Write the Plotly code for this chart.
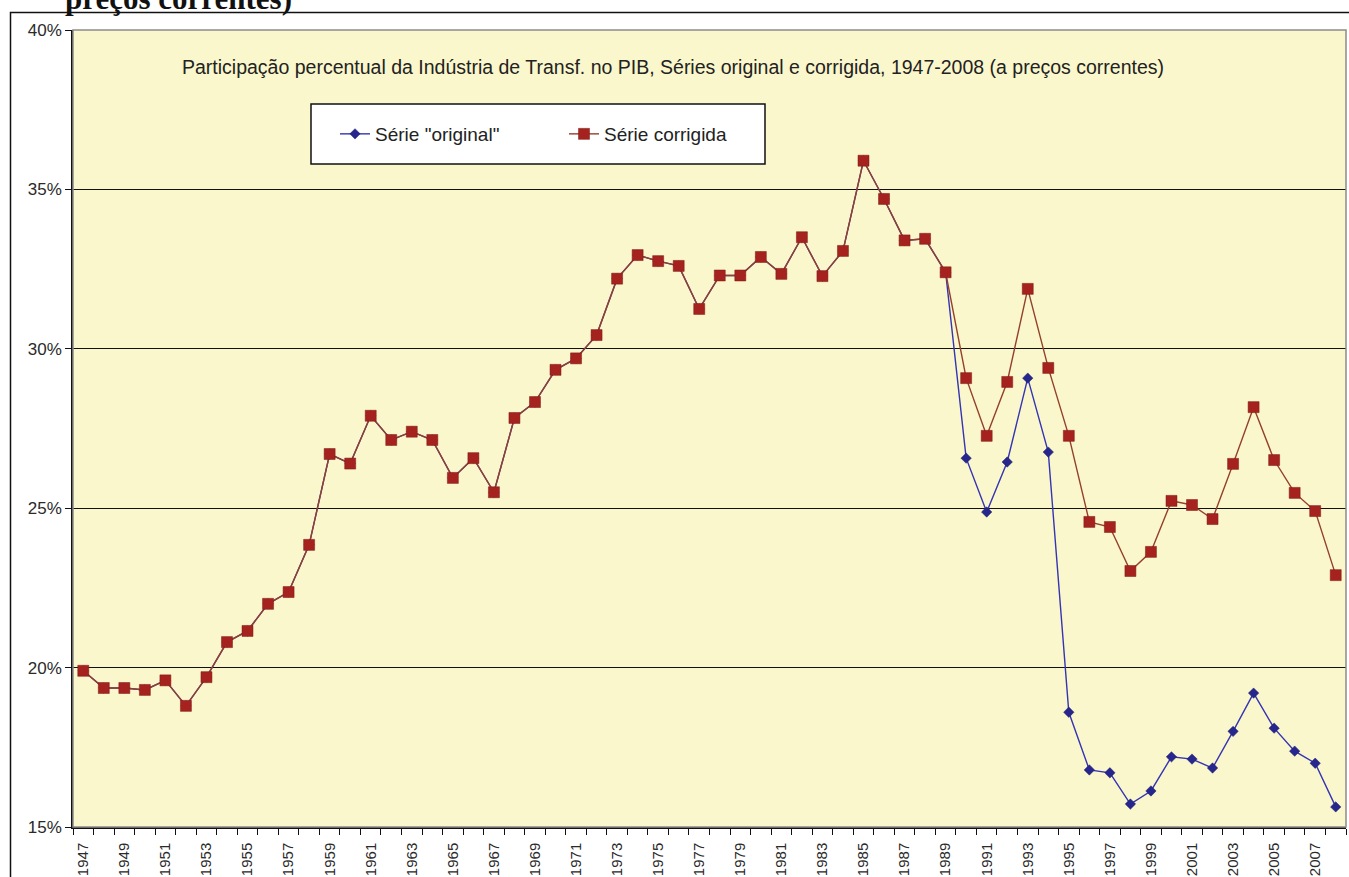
import plotly.graph_objects as go

# Years covered by both series
years = list(range(1947, 2009))

# Corrected series (% of GDP, current prices)
serie_corrigida = [
    19.9, 19.36, 19.36, 19.3, 19.6, 18.8, 19.7, 20.8, 21.15, 22.0,
    22.37, 23.85, 26.7, 26.4, 27.9, 27.14, 27.4, 27.14, 25.95, 26.57,
    25.5, 27.83, 28.33, 29.34, 29.7, 30.43, 32.2, 32.94, 32.75, 32.6,
    31.25, 32.3, 32.3, 32.88, 32.35, 33.5, 32.28, 33.07, 35.9, 34.7,
    33.4, 33.45, 32.4, 29.08, 27.27, 28.96, 31.88, 29.4, 27.27, 24.57,
    24.41, 23.03, 23.63, 25.23, 25.1, 24.66, 26.39, 28.17, 26.51, 25.48,
    24.91, 22.9,
]

# Original series: identical up to 1989, then diverges
original_1990_2008 = [
    26.57, 24.88, 26.45, 29.08, 26.76, 18.6, 16.79, 16.7, 15.72, 16.13,
    17.2, 17.13, 16.85, 18.0, 19.2, 18.1, 17.38, 17.0, 15.63,
]
serie_original = serie_corrigida[: 1990 - 1947] + original_1990_2008

odd_years = [y for y in years if y % 2 == 1]

title_text = ("Participação percentual da Indústria de Transf. no PIB, "
              "Séries original e corrigida, 1947-2008 (a preços correntes)")

fig = go.Figure()

fig.add_trace(go.Scatter(
    x=years, y=serie_original, mode="lines+markers",
    name='Série "original"',
    line=dict(color="#3434B4", width=1.4),
    marker=dict(symbol="diamond", size=8, color="#26268C",
                line=dict(color="#1E1E70", width=0.5)),
))
fig.add_trace(go.Scatter(
    x=years, y=serie_corrigida, mode="lines+markers",
    name="Série corrigida",
    line=dict(color="#93402C", width=1.4),
    marker=dict(symbol="square", size=11, color="#A6221F",
                line=dict(color="#7A1A16", width=0.5)),
))

L, R, T, B = 73, 3, 30, 50
W, H = 1349, 877
pw, ph = W - L - R, H - T - B


def px_x(x):
    return (x - L) / pw


def px_y(y):
    return (H - B - y) / ph


shapes = [
    # outer frame of the chart object
    dict(type="rect", xref="paper", yref="paper",
         x0=px_x(10.5), x1=px_x(1360), y0=px_y(900), y1=px_y(12.5),
         line=dict(color="#111111", width=1.5), fillcolor="rgba(0,0,0,0)",
         layer="below"),
    # plot area border (top and right in grey)
    dict(type="rect", xref="paper", yref="paper", x0=0, x1=1, y0=0, y1=1,
         line=dict(color="#8C8C8C", width=1.5), fillcolor="rgba(0,0,0,0)"),
    # legend box
    dict(type="rect", xref="paper", yref="paper",
         x0=px_x(311), x1=px_x(765), y0=px_y(164), y1=px_y(104),
         line=dict(color="#111111", width=1.5), fillcolor="white",
         layer="above"),
]

fig.update_layout(
    width=W, height=H,
    margin=dict(l=L, r=R, t=T, b=B, autoexpand=False),
    paper_bgcolor="white",
    plot_bgcolor="#FBF7CC",
    font=dict(family="Arial, Liberation Sans, sans-serif", size=16, color="#2A2A2A"),
    showlegend=True,
    legend=dict(
        orientation="h", x=px_x(335), y=px_y(134), xanchor="left", yanchor="middle",
        bgcolor="rgba(0,0,0,0)", borderwidth=0,
        font=dict(size=19, color="#222222"),
        entrywidth=184, entrywidthmode="pixels",
    ),
    shapes=shapes,
    annotations=[
        dict(text=title_text, xref="paper", yref="paper",
             x=px_x(673), y=px_y(67), xanchor="center", yanchor="middle",
             showarrow=False, font=dict(size=19.5, color="#222222")),
        dict(text="<b>preços correntes)</b>", xref="paper", yref="paper",
             x=px_x(63), y=px_y(18), xanchor="left", yanchor="bottom",
             showarrow=False,
             font=dict(family="Liberation Serif, Times New Roman, serif",
                       size=31, color="#111111")),
    ],
)

fig.update_xaxes(
    range=[1946.5, 2008.5],
    tickvals=odd_years, ticktext=[str(y) for y in odd_years],
    tickangle=-90, ticks="", ticklabelstandoff=8,
    tickfont=dict(size=15, color="#2A2A2A"),
    showgrid=False, zeroline=False, automargin=False,
    showline=True, linecolor="#111111", linewidth=1.5,
    minor=dict(ticks="outside", tick0=1946.5, dtick=1, ticklen=6,
               tickcolor="#111111", tickwidth=1.2, showgrid=False),
)
fig.update_yaxes(
    range=[15, 40], dtick=5, tick0=15,
    ticksuffix="%",
    ticks="outside", ticklen=6, tickcolor="#111111", tickwidth=1.2,
    tickfont=dict(size=17, color="#2A2A2A"),
    showgrid=True, gridcolor="#111111", gridwidth=1.3,
    zeroline=False, automargin=False,
    showline=True, linecolor="#111111", linewidth=1.5,
)

fig.write_html("out.html")
